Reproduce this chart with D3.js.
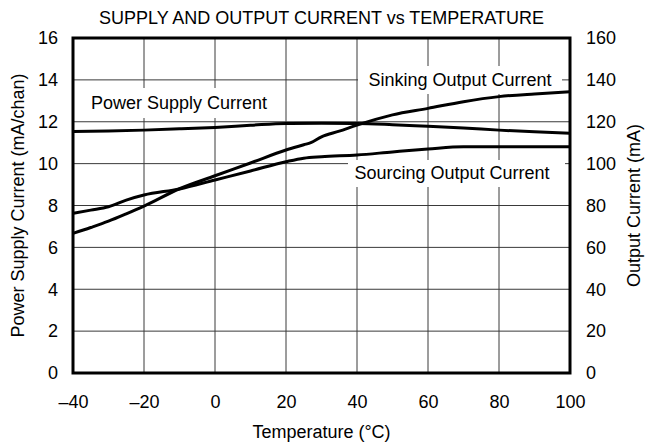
<!DOCTYPE html>
<html><head><meta charset="utf-8">
<script src="https://cdn.jsdelivr.net/npm/d3@7"></script>
<style>
html,body{margin:0;padding:0;background:#fff;}
svg text{font-family:"Liberation Sans",Arial,Helvetica,sans-serif;fill:#000;}
</style></head>
<body><svg id="c" width="646" height="447"></svg>
<script>
// ---- data ----
const xTicks = [-40,-20,0,20,40,60,80,100];
const xTickLabels = ["\u201340","\u201320","0","20","40","60","80","100"];
const leftTicks = [0,2,4,6,8,10,12,14,16];
const rightTicks = [0,20,40,60,80,100,120,140,160];

const supplyTemp = [-40,-30,-20,-10,0,10,20,30,40,50,60,70,80,90,100];
const supplyCurrent = [11.54,11.56,11.6,11.66,11.73,11.83,11.92,11.93,11.92,11.86,11.78,11.7,11.6,11.52,11.45];

const sinkTemp = [-40,-35,-30,-25,-20,-10,0,10,20,25,27,30,35,40,50,60,70,80,90,100];
const sinkCurrent = [66.7,69.5,72.5,76,79.7,88,94.2,100.3,106.5,109,110,112.8,115.5,118.4,123.3,126.4,129.6,132,133.3,134.3];

const sourceTemp = [-40,-35,-30,-25,-20,-10,0,10,20,25,30,40,50,60,70,80,90,100];
const sourceCurrent = [76.3,77.8,79.4,82.6,85,87.9,92.2,96.5,100.9,102.6,103.3,104.1,105.6,107,108.1,108.1,108.1,108.1];

const title = "SUPPLY AND OUTPUT CURRENT vs TEMPERATURE";
const xLabel = "Temperature (\u00B0C)";
const yLeftLabel = "Power Supply Current (mA/chan)";
const yRightLabel = "Output Current (mA)";
const labelSupply = "Power Supply Current";
const labelSink = "Sinking Output Current";
const labelSource = "Sourcing Output Current";

// ---- layout ----
const L = 73, R = 570, T = 38, B = 373;
const svg = d3.select("#c");
const x = d3.scaleLinear().domain([-40,100]).range([L,R]);
const yL = d3.scaleLinear().domain([0,16]).range([B,T]);
const yR = d3.scaleLinear().domain([0,160]).range([B,T]);
const FS = 18;

// gridlines
const grid = svg.append("g").attr("stroke","#3a3a3a").attr("stroke-width",1);
xTicks.forEach(t => grid.append("line").attr("x1",x(t)).attr("x2",x(t)).attr("y1",T).attr("y2",B));
leftTicks.forEach(t => grid.append("line").attr("x1",L).attr("x2",R).attr("y1",yL(t)).attr("y2",yL(t)));

// axes (labels only)
const ax = svg.append("g").attr("transform",`translate(0,${B})`)
  .call(d3.axisBottom(x).tickValues(xTicks).tickSize(0).tickPadding(22)
    .tickFormat((d,i)=>xTickLabels[i]));
const ayl = svg.append("g").attr("transform",`translate(${L},0)`)
  .call(d3.axisLeft(yL).tickValues(leftTicks).tickSize(0).tickPadding(15).tickFormat(d3.format("d")));
const ayr = svg.append("g").attr("transform",`translate(${R},0)`)
  .call(d3.axisRight(yR).tickValues(rightTicks).tickSize(0).tickPadding(16).tickFormat(d3.format("d")));
[ax,ayl,ayr].forEach(g=>{
  g.select(".domain").remove();
  g.selectAll("text").attr("font-size",FS).attr("font-family",'"Liberation Sans",Arial,sans-serif').attr("fill","#000");
});

// labelled boxes
function boxLabel(txt, cx, cy, bx0, by0, bx1, by1){
  svg.append("rect").attr("x",bx0).attr("y",by0).attr("width",bx1-bx0).attr("height",by1-by0).attr("fill","#fff");
  svg.append("text").attr("x",cx).attr("y",cy).attr("text-anchor","middle")
    .attr("dominant-baseline","central").attr("font-size",FS).text(txt);
}
boxLabel(labelSupply, 179, 103, 84, 88, 276, 118);
boxLabel(labelSink, 460, 80, 358, 66, 562, 94);
boxLabel(labelSource, 452, 173, 348, 160, 565, 187);

// curves
const line = (ys) => d3.line().x(d=>x(d[0])).y(d=>ys(d[1])).curve(d3.curveMonotoneX);
const curves = svg.append("g").attr("fill","none").attr("stroke","#000").attr("stroke-width",3).attr("stroke-linejoin","round");
curves.append("path").attr("d", line(yL)(supplyTemp.map((t,i)=>[t,supplyCurrent[i]])));
curves.append("path").attr("d", line(yR)(sinkTemp.map((t,i)=>[t,sinkCurrent[i]])));
curves.append("path").attr("d", line(yR)(sourceTemp.map((t,i)=>[t,sourceCurrent[i]])));

// frame
svg.append("rect").attr("x",L).attr("y",T).attr("width",R-L).attr("height",B-T)
  .attr("fill","none").attr("stroke","#000").attr("stroke-width",3);

// titles
svg.append("text").attr("x",(L+R)/2).attr("y",24).attr("text-anchor","middle").attr("font-size",FS).text(title);
svg.append("text").attr("x",(L+R)/2).attr("y",438).attr("text-anchor","middle").attr("font-size",FS).text(xLabel);
svg.append("text").attr("transform",`translate(18,${(T+B)/2}) rotate(-90)`).attr("text-anchor","middle")
  .attr("dominant-baseline","central").attr("font-size",FS).text(yLeftLabel);
svg.append("text").attr("transform",`translate(634,${(T+B)/2}) rotate(-90)`).attr("text-anchor","middle")
  .attr("dominant-baseline","central").attr("font-size",FS).text(yRightLabel);
</script></body></html>
